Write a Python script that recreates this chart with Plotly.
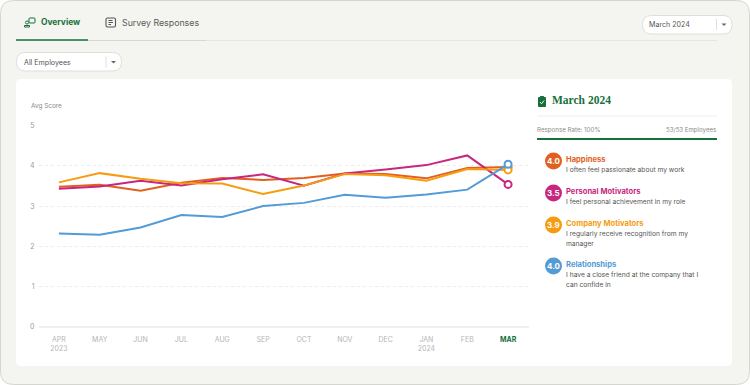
import plotly.graph_objects as go

W, H = 750, 385

months = ["APR<br>2023", "MAY", "JUN", "JUL", "AUG", "SEP", "OCT", "NOV", "DEC", "JAN<br>2024", "FEB",
          "<b><span style='color:#17703c'>MAR</span></b>"]
categories = ["Apr 23", "May 23", "Jun 23", "Jul 23", "Aug 23", "Sep 23", "Oct 23", "Nov 23", "Dec 23", "Jan 24", "Feb 24", "Mar 24"]
happiness = [3.48, 3.53, 3.38, 3.58, 3.70, 3.65, 3.70, 3.81, 3.80, 3.69, 3.95, 3.97]
personal = [3.43, 3.49, 3.63, 3.51, 3.67, 3.79, 3.51, 3.81, 3.91, 4.02, 4.26, 3.54]
company = [3.59, 3.82, 3.68, 3.57, 3.56, 3.30, 3.51, 3.80, 3.77, 3.63, 3.92, 3.90]
relationships = [2.32, 2.29, 2.47, 2.78, 2.73, 3.00, 3.08, 3.28, 3.21, 3.29, 3.41, 4.04]
series = [("Happiness", happiness, "#e2601f"), ("Personal Motivators", personal, "#c8277f"),
          ("Company Motivators", company, "#f59c0f"), ("Relationships", relationships, "#549bd6")]
legend_rows = [
    ("4.0", "Happiness", ["I often feel passionate about my work"], "#e2601f", 161),
    ("3.5", "Personal Motivators", ["I feel personal achievement in my role"], "#c8277f", 193),
    ("3.9", "Company Motivators", ["I regularly receive recognition from my", "manager"], "#f59c0f", 225),
    ("4.0", "Relationships", ["I have a close friend at the company that I", "can confide in"], "#549bd6", 266),
]

GREEN = "#17703c"
FONT = "Inter"


def px(x):
    return x / W


def py(y):
    return 1 - y / H


def rr(x0, y0, x1, y1, r):
    a, b, c, d = px(x0), py(y0), px(x1), py(y1)
    rx, ry = r / W, r / H
    return (f"M{a + rx},{b} L{c - rx},{b} Q{c},{b} {c},{b - ry} L{c},{d + ry} Q{c},{d} {c - rx},{d} "
            f"L{a + rx},{d} Q{a},{d} {a},{d + ry} L{a},{b - ry} Q{a},{b} {a + rx},{b} Z")


shapes = []
annotations = []


def add_path(path, fill="rgba(0,0,0,0)", line="rgba(0,0,0,0)", lw=1):
    shapes.append(dict(type="path", xref="paper", yref="paper", path=path, fillcolor=fill,
                       line=dict(color=line, width=lw), layer="below"))


def add_line(x0, y0, x1, y1, color, lw=1):
    shapes.append(dict(type="line", xref="paper", yref="paper", x0=px(x0), y0=py(y0), x1=px(x1), y1=py(y1),
                       line=dict(color=color, width=lw), layer="below"))


def poly(points):
    return "M" + " L".join(f"{px(x)},{py(y)}" for x, y in points) + " Z"


def text(x, y, s, size, color, anchor="left", font=FONT, bold=False):
    if anchor == "left":
        x -= 1.2
    annotations.append(dict(xref="paper", yref="paper", x=px(x), y=py(y), text=f"<b>{s}</b>" if bold else s,
                            showarrow=False, xanchor=anchor, yanchor="middle", borderpad=0,
                            font=dict(family=font, size=size, color=color)))


# page chrome
add_path(rr(0.5, 0.5, 749.5, 384.5, 13), fill="#f4f4f0", line="#d6d6d0", lw=1)
add_path(rr(16, 79, 732, 366, 5), fill="#ffffff")

# tabs
add_line(16, 40.5, 717, 40.5, "#e6e6e1", 1)
add_line(88, 40.5, 206, 40.5, "#d8d8d2", 1)
add_line(16, 40, 88, 40, GREEN, 1.6)
text(41, 22, "Overview", 8.4, GREEN, bold=True)
text(122, 22, "Survey Responses", 8.8, "#5a5a58")

# overview icon
add_path(rr(29, 18, 35, 23, 0.8), line=GREEN, lw=1)
add_path(f"M{px(24.5)},{py(27)} L{px(24.5)},{py(25.5)} L{px(29.5)},{py(25.5)} L{px(29.5)},{py(27)} Z", line=GREEN, lw=1)
add_path(rr(25.5, 21, 28.5, 24, 1.4), line=GREEN, lw=1)
# survey icon
add_path(rr(106, 18, 115.5, 27, 1.5), line="#555553", lw=1.1)
add_line(108.5, 20.5, 112.5, 20.5, "#555553", 1)
add_line(108.5, 22.5, 113, 22.5, "#555553", 1)
add_line(108.5, 24.5, 111, 24.5, "#555553", 1)

# selects
add_path(rr(16.5, 52.5, 121.5, 71, 9), fill="#ffffff", line="#dededa", lw=1)
add_line(106, 56.5, 106, 67.5, "#dededa", 1)
add_path(poly([(111, 61), (116, 61), (113.5, 63.5)]), fill="#666666")
text(24, 62, "All Employees", 7.1, "#555553")

add_path(rr(642.5, 15.5, 732, 34, 9), fill="#ffffff", line="#dededa", lw=1)
add_line(716.5, 19, 716.5, 30, "#dededa", 1)
add_path(poly([(721.5, 23.5), (726.5, 23.5), (724, 26)]), fill="#666666")
text(649.5, 24.5, "March 2024", 7.1, "#555553")

# chart label
text(31, 106, "Avg Score", 6.4, "#8a8a8a")

# right panel
add_path(rr(538, 97, 546, 107, 1), fill=GREEN)
add_path(rr(540, 96, 544, 98.5, 0.5), fill=GREEN)
add_path(f"M{px(540)},{py(102)} L{px(541.5)},{py(103.8)} L{px(544.2)},{py(100.5)}", line="#ffffff", lw=0.9)
text(552.5, 100.5, "March 2024", 11.5, GREEN, font="Liberation Serif", bold=True)
add_line(537, 116, 717, 116, "#eeeeee", 1)
text(537, 129.5, "Response Rate: 100%", 6.2, "#8c8c8c")
text(717, 129.5, "53/53 Employees", 6.1, "#8c8c8c", anchor="right")
add_line(537, 139, 717, 139, GREEN, 2)

for value, name, lines, color, cy in legend_rows:
    shapes.append(dict(type="circle", xref="paper", yref="paper", x0=px(545), x1=px(562), y0=py(cy - 8.5), y1=py(cy + 8.5),
                       fillcolor=color, line=dict(width=0), layer="below"))
    text(553.5, cy, value, 8, "#ffffff", anchor="center", bold=True)
    text(566.5, cy - 2, name, 7.6, color, bold=True)
    for i, ln in enumerate(lines):
        text(566.5, cy + 8.5 + i * 10, ln, 6.7, "#555553")

fig = go.Figure()
for name, values, color in series:
    sizes = [0] * (len(values) - 1) + [7]
    fig.add_trace(go.Scatter(
        x=categories, y=values, name=name, mode="lines+markers", line=dict(color=color, width=2),
        marker=dict(size=sizes, color="#ffffff", opacity=1, line=dict(color=color, width=[0] * (len(values) - 1) + [2])),
        hoverinfo="x+y+name", cliponaxis=False,
    ))

fig.update_layout(
    width=W, height=H, autosize=False, margin=dict(l=0, r=0, t=0, b=0, pad=0, autoexpand=False),
    paper_bgcolor="#ffffff", plot_bgcolor="rgba(0,0,0,0)", showlegend=False,
    font=dict(family=FONT), shapes=shapes, annotations=annotations,
    xaxis=dict(domain=[px(38.5), px(528.5)], type="category", categoryorder="array", categoryarray=categories,
               range=[-0.5, 11.5], tickmode="array", tickvals=categories, ticktext=months,
               tickfont=dict(size=7, color="#b5b5b5", family=FONT), showgrid=False, zeroline=False,
               showline=False, ticks="", ticklabelstandoff=7, fixedrange=True, automargin=False),
    yaxis=dict(domain=[py(326.7), py(125.7)], range=[0, 5], tickvals=[0, 1, 2, 3, 4, 5],
               tickfont=dict(size=7, color="#9a9a9a", family=FONT), showgrid=True, gridcolor="#ececec",
               griddash="dot", gridwidth=1, zeroline=True, zerolinecolor="#f0f0f0", zerolinewidth=1.5,
               showline=False, ticks="", ticklabelstandoff=3, fixedrange=True, automargin=False),
)

fig.write_html("out.html", config={"displayModeBar": False},
               post_script="document.body.style.margin='0';document.body.style.overflow='hidden';")
